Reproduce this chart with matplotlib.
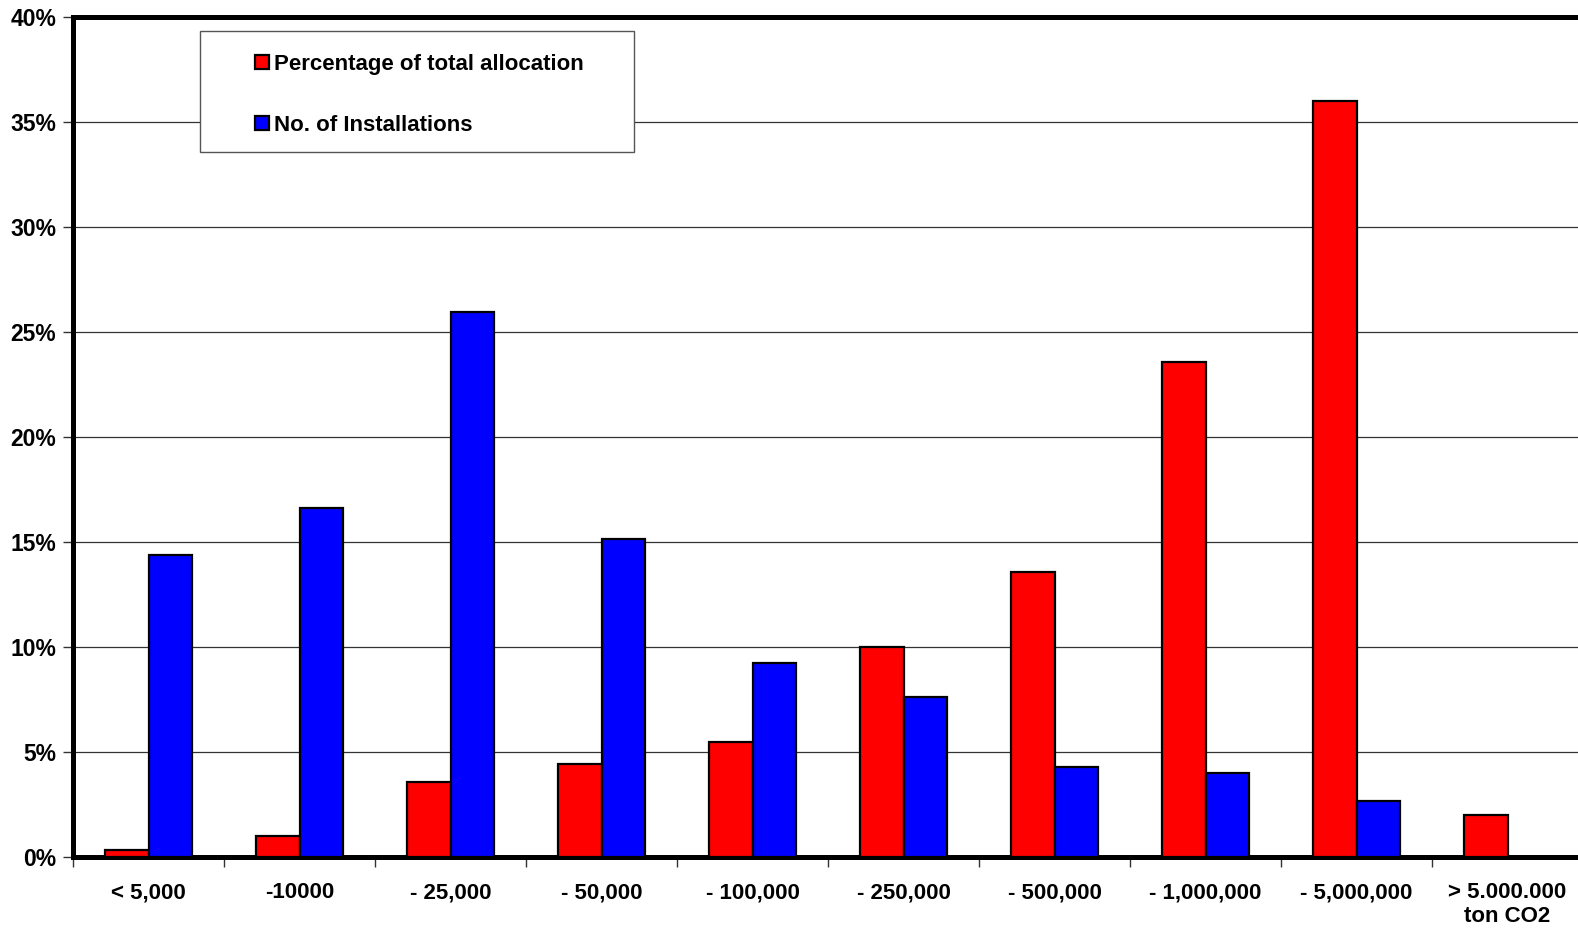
import numpy as np
import matplotlib
matplotlib.use("Agg")
import matplotlib.pyplot as plt
from matplotlib.patches import Rectangle
from matplotlib.ticker import FixedLocator, FuncFormatter

plt.rcParams['font.family'] = ['Liberation Sans', 'DejaVu Sans']
plt.rcParams['font.weight'] = 'bold'

categories = ["< 5,000", "-10000", "- 25,000", "- 50,000", "- 100,000",
              "- 250,000", "- 500,000", "- 1,000,000", "- 5,000,000",
              "> 5.000.000\nton CO2"]
allocation_pct = [0.35, 1.0, 3.55, 4.45, 5.5, 10.0, 13.55, 23.55, 36.0, 2.0]
installations_pct = [14.4, 16.6, 25.95, 15.15, 9.25, 7.6, 4.3, 4.0, 2.65, 0.0]
y_ticks = [0, 5, 10, 15, 20, 25, 30, 35, 40]

W, H = 1578, 934
fig = plt.figure(figsize=(W / 100, H / 100), dpi=100)
ax = fig.add_axes([73 / W, (H - 857) / H, 1510 / W, (857 - 17) / H])

x = np.arange(len(categories))
bw = 0.2857
ax.bar(x - bw / 2, allocation_pct, bw, color='#ff0000', edgecolor='black',
       linewidth=1.6, label='Percentage of total allocation', zorder=3)
ax.bar(x + bw / 2, installations_pct, bw, color='#0000ff', edgecolor='black',
       linewidth=1.6, label='No. of Installations', zorder=3)

ax.set_xlim(-0.5, len(categories) - 0.5)
ax.set_ylim(0, 40)

ax.yaxis.set_major_locator(FixedLocator(y_ticks))
ax.yaxis.set_major_formatter(FuncFormatter(lambda v, p: f"{v:.0f}%"))
ax.grid(axis='y', color='#333333', linewidth=0.9, zorder=0)

# category boundaries carry the tick marks, centres carry the labels
ax.xaxis.set_major_locator(FixedLocator(np.arange(len(categories) + 1) - 0.5))
ax.xaxis.set_major_formatter(FuncFormatter(lambda v, p: ""))
ax.xaxis.set_minor_locator(FixedLocator(x))
ax.set_xticklabels(categories, minor=True)
ax.tick_params(axis='x', which='minor', length=0, pad=18, labelsize=16)
ax.tick_params(axis='x', which='major', length=7, width=1, color='#333333', direction='out')
ax.tick_params(axis='y', length=7, width=1, color='#333333', direction='out',
               labelsize=16.5, pad=5)
for lbl in ax.get_xticklabels(minor=True) + ax.get_yticklabels():
    lbl.set_fontweight('bold')

for side in ('left', 'bottom', 'top'):
    ax.spines[side].set_linewidth(3.6)
    ax.spines[side].set_color('black')
ax.spines['right'].set_visible(False)

# legend box, placed in figure pixel coordinates
ax.add_patch(Rectangle((200 / W, (H - 152) / H), 434 / W, 121 / H,
                       transform=fig.transFigure, facecolor='white',
                       edgecolor='#555555', linewidth=1.0, zorder=5,
                       clip_on=False))
leg = ax.legend(loc='upper left', bbox_to_anchor=(255 / W, (H - 54) / H),
                bbox_transform=fig.transFigure,
                frameon=False, fontsize=16, handlelength=0.62, handleheight=0.62,
                handletextpad=0.25, labelspacing=1.8, borderpad=0, borderaxespad=0)
leg.set_zorder(6)
for t in leg.get_texts():
    t.set_fontweight('bold')

fig.savefig("out.png", dpi=100, facecolor='white')
